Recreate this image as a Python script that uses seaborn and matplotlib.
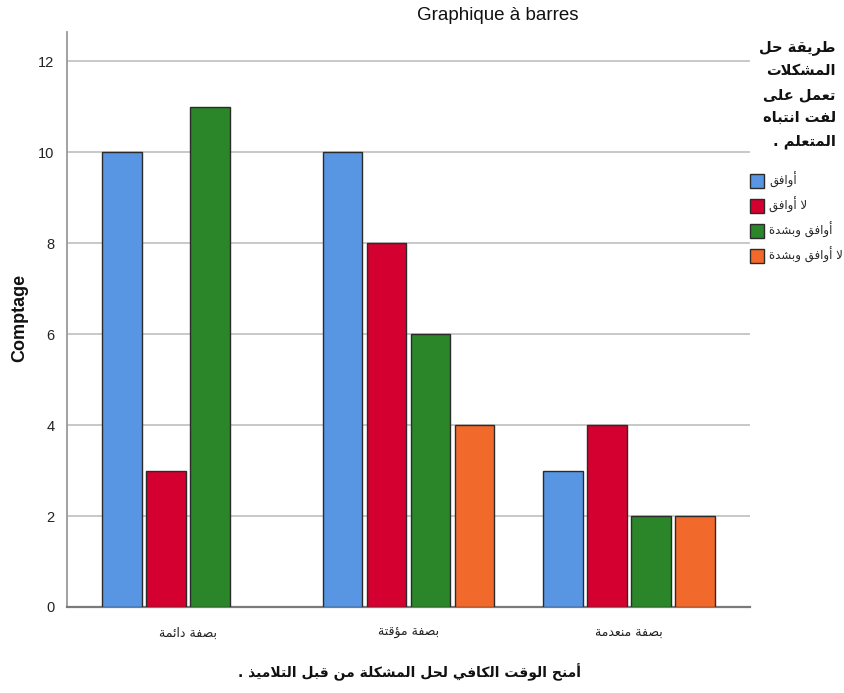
import matplotlib
matplotlib.use("Agg")
import matplotlib.pyplot as plt
import seaborn as sns
import pandas as pd
from matplotlib.patches import Patch

# ---------------- data ----------------
categories = ["بصفة دائمة", "بصفة مؤقتة", "بصفة منعدمة"]
responses = ["أوافق", "لا أوافق", "أوافق وبشدة", "لا أوافق وبشدة"]
counts_agree = [10, 10, 3]
counts_disagree = [3, 8, 4]
counts_strongly_agree = [11, 6, 2]
counts_strongly_disagree = [0, 4, 2]
colors = ["#5895E3", "#D4002F", "#2A8629", "#F26A2B"]
yticks = [0, 2, 4, 6, 8, 10, 12]
title = "Graphique à barres"
ylabel = "Comptage"
xlabel = "أمنح الوقت الكافي لحل المشكلة من قبل التلاميذ ."
legend_title_lines = ["طريقة حل", "المشكلات", "تعمل على", "لفت انتباه", "المتعلم ."]

# ---------------- minimal Arabic shaping (presentation forms + RTL order) ----------------
_D, _R, _U = "D", "R", "U"
FORMS = {
    "\u0621": (0xFE80, _U), "\u0622": (0xFE81, _R), "\u0623": (0xFE83, _R),
    "\u0624": (0xFE85, _R), "\u0625": (0xFE87, _R), "\u0626": (0xFE89, _D),
    "\u0627": (0xFE8D, _R), "\u0628": (0xFE8F, _D), "\u0629": (0xFE93, _R),
    "\u062A": (0xFE95, _D), "\u062B": (0xFE99, _D), "\u062C": (0xFE9D, _D),
    "\u062D": (0xFEA1, _D), "\u062E": (0xFEA5, _D), "\u062F": (0xFEA9, _R),
    "\u0630": (0xFEAB, _R), "\u0631": (0xFEAD, _R), "\u0632": (0xFEAF, _R),
    "\u0633": (0xFEB1, _D), "\u0634": (0xFEB5, _D), "\u0635": (0xFEB9, _D),
    "\u0636": (0xFEBD, _D), "\u0637": (0xFEC1, _D), "\u0638": (0xFEC5, _D),
    "\u0639": (0xFEC9, _D), "\u063A": (0xFECD, _D), "\u0641": (0xFED1, _D),
    "\u0642": (0xFED5, _D), "\u0643": (0xFED9, _D), "\u0644": (0xFEDD, _D),
    "\u0645": (0xFEE1, _D), "\u0646": (0xFEE5, _D), "\u0647": (0xFEE9, _D),
    "\u0648": (0xFEED, _R), "\u0649": (0xFEEF, _R), "\u064A": (0xFEF1, _D),
}
LAMALEF = {"\u0622": 0xFEF5, "\u0623": 0xFEF7, "\u0625": 0xFEF9, "\u0627": 0xFEFB}


def shape(s):
    units = []
    i = 0
    while i < len(s):
        c = s[i]
        if c == "\u0644" and i + 1 < len(s) and s[i + 1] in LAMALEF:
            units.append(("LA", s[i + 1]))
            i += 2
        else:
            units.append(("C", c))
            i += 1

    def jtype(u):
        if u[0] == "LA":
            return _R
        return FORMS[u[1]][1] if u[1] in FORMS else None

    out = []
    for k, u in enumerate(units):
        t = jtype(u)
        prev = jtype(units[k - 1]) if k > 0 else None
        nxt = jtype(units[k + 1]) if k + 1 < len(units) else None
        jp = t in (_D, _R) and prev == _D
        jn = t == _D and nxt in (_D, _R)
        if u[0] == "LA":
            out.append(chr(LAMALEF[u[1]] + (1 if jp else 0)))
        elif t is None:
            out.append(u[1])
        elif t == _U:
            out.append(chr(FORMS[u[1]][0]))
        elif t == _R:
            out.append(chr(FORMS[u[1]][0] + (1 if jp else 0)))
        else:
            off = 3 if (jp and jn) else 1 if jp else 2 if jn else 0
            out.append(chr(FORMS[u[1]][0] + off))
    return "".join(reversed(out))


# ---------------- build table ----------------
series = [counts_agree, counts_disagree, counts_strongly_agree, counts_strongly_disagree]
rows = []
for resp, vals in zip(responses, series):
    for cat, v in zip(categories, vals):
        if v > 0:
            rows.append({"cat": shape(cat), "resp": shape(resp), "count": v})
df = pd.DataFrame(rows)
cat_order = [shape(c) for c in categories]
hue_order = [shape(r) for r in responses]

# ---------------- plot ----------------
sns.set_theme(style="white")
plt.rcParams["font.family"] = ["Liberation Sans", "DejaVu Sans"]

fig = plt.figure(figsize=(8.45, 6.93), dpi=100)
ax = fig.add_axes([67 / 845, 1 - 607 / 693, (750 - 67) / 845, (607 - 32) / 693])

sns.barplot(data=df, x="cat", y="count", hue="resp", order=cat_order,
            hue_order=hue_order, palette=colors, dodge=True, width=0.8, gap=0.1,
            edgecolor="#2b2b2b", linewidth=1.0, saturation=1, legend=False, ax=ax,
            zorder=3)

ax.set_xlim(-0.55, 2.55)
ax.set_ylim(0, 12.64)
ax.set_yticks(yticks)
ax.yaxis.grid(True, color="#C8C8C8", linewidth=1.4, zorder=0)
ax.xaxis.grid(False)
ax.set_axisbelow(True)
for side in ["top", "right"]:
    ax.spines[side].set_visible(False)
ax.spines["left"].set_color("#9A9A9A")
ax.spines["left"].set_linewidth(1.3)
ax.spines["bottom"].set_color("#7A7A7A")
ax.spines["bottom"].set_linewidth(1.6)
ax.tick_params(axis="both", length=0, colors="#222222")
ax.tick_params(axis="y", labelsize=10.5, pad=9)
ax.tick_params(axis="x", labelsize=9, pad=14)
for lbl in ax.get_xticklabels():
    lbl.set_family(["DejaVu Sans"])
ax.set_xlabel("")
ax.set_ylabel("")

fig.text(498 / 845, 1 - 15 / 693, title, ha="center", va="center",
         fontsize=13.5, color="#111111")
fig.text(20 / 845, 1 - 318 / 693, ylabel, ha="center", va="center",
         rotation=90, fontsize=13, fontweight="bold", color="#111111")
fig.text(410 / 845, 1 - 672 / 693, shape(xlabel), ha="center", va="center",
         fontsize=10, fontweight="bold", family=["DejaVu Sans"], color="#111111")

fig.text(836 / 845, 1 - 40 / 693, "\n".join(shape(l) for l in legend_title_lines),
         ha="right", va="top", multialignment="right", fontsize=10.5,
         fontweight="bold", family=["DejaVu Sans"], color="#111111", linespacing=1.7)

handles = [Patch(facecolor=c, edgecolor="#2b2b2b", linewidth=1.0) for c in colors]
fig.legend(handles, hue_order, loc="upper left",
           bbox_to_anchor=(750 / 845, 1 - 172 / 693), frameon=False,
           prop={"family": ["DejaVu Sans"], "size": 8.5},
           handlelength=1.2, handleheight=1.5, handletextpad=0.4,
           labelspacing=0.75, borderaxespad=0, borderpad=0)

fig.savefig("out.png", dpi=100)
